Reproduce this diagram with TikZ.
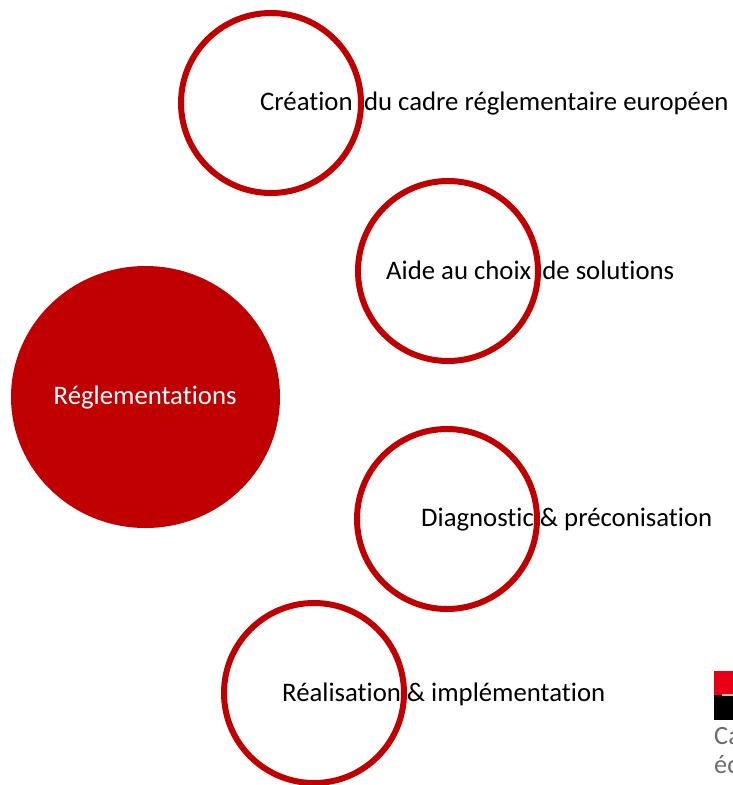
\documentclass[tikz,border=0pt]{standalone}
\usepackage{fontspec}
\usetikzlibrary{shapes.geometric}
\setmainfont{Carlito}[Ligatures={NoCommon}]
\definecolor{ringred}{RGB}{192,0,0}
\definecolor{logored}{RGB}{233,0,22}
\tikzset{
 ring/.style={circle,draw=ringred,line width=6pt,fill=none,minimum size=180pt,inner sep=0pt},
 lbl/.style={inner sep=0pt,anchor=base west,font=\fontsize{26.75pt}{30pt}\selectfont,text=black},
 grey/.style={inner sep=0pt,anchor=base west,font=\fontsize{26.4pt}{30pt}\selectfont,text=gray!85!black}
}
\begin{document}
\begin{tikzpicture}[x=1pt,y=-1pt]
\useasboundingbox (0,0) rectangle (733,785);
\clip (0,0) rectangle (733,785);
\node[ellipse,fill=ringred,minimum width=269pt,minimum height=262pt,inner sep=0pt] (main) at (145.5,397) {};
\node[lbl,text=white] (mainl) at (53.5,404) {Réglementations};
\node[ring] (r1) at (271,103) {};
\node[ring] (r2) at (448,271) {};
\node[ring] (r3) at (447,519) {};
\node[ring] (r4) at (314,693) {};
\node[lbl] (t1) at (260,110) {Création\hspace{5.5pt} du cadre réglementaire européen};
\node[lbl] (t2) at (386,279) {Aide au choix\hspace{5pt} de solutions};
\node[lbl] (t3) at (421,526) {Diagnostic \& préconisation};
\node[lbl] (t4) at (282,701) {Réalisation \& implémentation};
\fill[logored] (714,671) rectangle (733,695);
\fill[black] (714,695) rectangle (733,720);
\fill[black!25] (722,694) rectangle (733,696);
\node[grey] (c1) at (714,744) {Ca};
\node[grey] (c2) at (714,773) {éc};
\end{tikzpicture}
\end{document}
